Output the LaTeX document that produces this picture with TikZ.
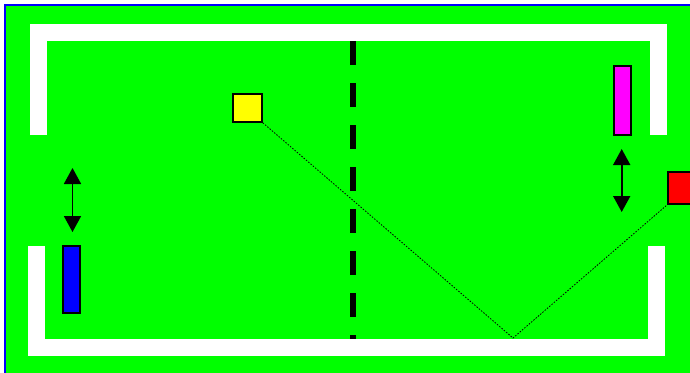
\documentclass[tikz,border=0pt]{standalone}
\usetikzlibrary{arrows.meta}
\definecolor{pong}{RGB}{0,255,0}
\definecolor{pongmagenta}{RGB}{255,0,255}
\definecolor{pongblue}{RGB}{0,0,255}
\definecolor{pongred}{RGB}{255,0,0}
\definecolor{pongyellow}{RGB}{255,255,0}
\begin{document}
\begin{tikzpicture}[x=1pt, y=-1pt, line join=miter, >={Triangle[length=16pt,width=17pt]},
	wall/.style={white, line width=17pt},
	paddle/.style={draw=black, line width=1.5pt, minimum width=17pt, inner sep=0pt},
	block/.style={draw=black, line width=1.5pt, inner sep=0pt}]

	% Khung và nền sân
	\useasboundingbox (0,0) rectangle (690,372);
	\clip (0,0) rectangle (690,372);
	\draw[pongblue, line width=2pt, fill=pong] (5,5) rectangle (720,400);

	% Tường trắng phía trên và phía dưới
	\draw[wall] (38.5,135) -- (38.5,32.5) -- (658.5,32.5) -- (658.5,135);
	\draw[wall] (36.5,246) -- (36.5,347.5) -- (656.5,347.5) -- (656.5,246);

	% Vạch giữa sân
	\coordinate (M1) at (353,41);
	\coordinate (M2) at (353,339);
	\draw[line width=6pt, dash pattern=on 24pt off 18pt] (M1) -- (M2);

	% Hai vợt và hai khối vuông
	\node[paddle, fill=pongblue, minimum height=67pt] (left) at (71.5,279.5) {};
	\node[paddle, fill=pongmagenta, minimum height=69pt] (right) at (622.5,100.5) {};
	\node[block, fill=pongyellow, minimum width=29pt, minimum height=28pt] (ball) at (247.5,108) {};
	\node[block, fill=pongred, minimum size=32pt] (goal) at (684,188) {};

	% Đường đi của bóng
	\coordinate (P) at (513,338);
	\draw[line width=0.8pt, dash pattern=on 1.5pt off 1.5pt] (ball.south east) -- (P) -- (goal.south west);

	% Mũi tên di chuyển của vợt
	\coordinate (L1) at (72.5,168);
	\coordinate (L2) at (72.5,232);
	\coordinate (R1) at (621.7,149);
	\coordinate (R2) at (621.7,212);
	\draw[<->, line width=1.8pt] (L1) -- (L2);
	\draw[<->, line width=1.8pt] (R1) -- (R2);

\end{tikzpicture}
\end{document}
